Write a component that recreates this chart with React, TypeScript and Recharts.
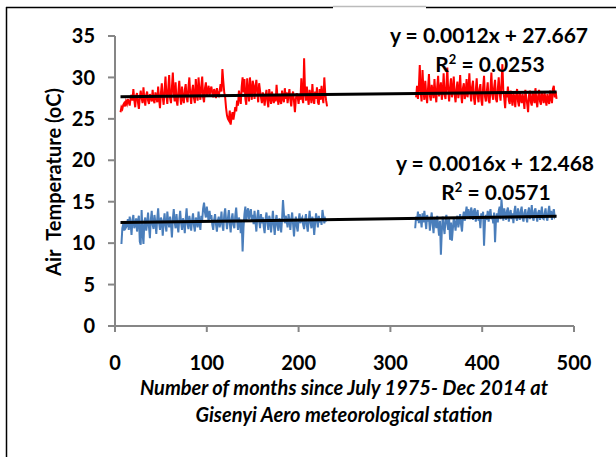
import { LineChart, Line, XAxis, YAxis, ReferenceLine } from "recharts";

// monthly mean max / min air temperature, Gisenyi Aero (months since July 1975)
const redStart1 = 6;
const redPart1 = [
  25.8, 26.4, 26.2, 26.7, 26.9, 26.5, 27.1, 26.8, 27.4, 27.0, 26.6, 27.5, 27.9, 27.2, 28.6, 27.3, 26.4, 27.8, 28.1, 27.0,
  26.2, 27.6, 28.4, 27.5, 26.9, 28.8, 27.4, 26.6, 27.9, 28.3, 27.2, 26.8, 28.0, 27.6, 27.1, 28.5, 27.3, 26.9, 28.2, 27.7,
  27.0, 28.9, 27.4, 26.3, 28.1, 29.3, 27.6, 26.7, 28.4, 30.1, 27.9, 26.8, 28.6, 30.3, 27.5, 26.9, 28.8, 30.6, 28.0, 27.1,
  29.4, 27.3, 26.6, 28.2, 29.6, 27.8, 26.7, 28.9, 27.4, 26.9, 28.5, 29.2, 27.6, 27.0, 28.8, 30.0, 27.9, 26.8, 28.4, 29.1,
  27.5, 26.9, 29.8, 28.1, 27.2, 30.0, 28.4, 27.3, 28.9, 30.1, 27.6, 27.0, 28.7, 29.4, 27.8, 28.3, 29.0, 27.7, 28.5, 28.9,
  28.1, 27.6, 28.6, 28.2, 27.5, 28.7, 28.0, 27.8, 28.4, 29.2, 28.3, 31.0, 29.5, 28.2, 27.6, 26.3, 25.4, 25.0, 24.8, 26.0,
  24.3, 25.2, 25.8, 24.9, 25.6, 26.4, 25.9, 27.2, 26.6, 28.4, 27.5, 26.8, 28.9, 30.0, 28.2, 29.8, 27.4, 26.7, 29.9, 28.3,
  27.1, 30.0, 28.5, 27.3, 29.6, 29.0, 27.4, 28.8, 29.7, 28.1, 27.0, 29.3, 28.4, 27.6, 26.9, 28.2, 27.5, 26.6, 27.8, 28.5,
  27.2, 26.4, 28.6, 27.7, 26.8, 28.3, 27.4, 26.9, 27.9, 27.1, 29.1, 27.6, 26.7, 28.0, 27.3, 26.8, 28.4, 27.5, 27.0, 28.7,
  27.4, 28.2, 26.9, 27.8, 28.6, 27.3, 26.5, 27.9, 28.3, 27.1, 25.8, 27.4, 28.1, 27.6, 26.8, 28.0, 27.3, 29.9, 27.5, 26.9,
  32.3, 28.4, 27.2, 28.9, 27.6, 26.7, 28.5, 27.8, 26.9, 29.2, 27.5, 26.8, 28.3, 27.4, 28.8, 27.0, 26.7, 28.6, 27.3, 29.0,
  27.6, 26.9, 30.0, 28.1, 27.2, 26.5,
];
const redStart2 = 328;
const redPart2 = [
  27.6, 29.0, 27.4, 28.8, 31.5, 28.2, 27.1, 30.9, 28.4, 27.3, 29.6, 28.0, 26.9, 28.7, 30.4, 27.8, 27.2, 29.1, 28.3, 27.5,
  29.8, 28.1, 27.0, 28.9, 30.2, 27.7, 28.5, 29.4, 27.3, 28.2, 30.5, 28.0, 27.4, 29.0, 31.2, 28.3, 27.1, 28.8, 29.9, 27.6,
  28.4, 30.1, 27.9, 27.0, 28.6, 29.5, 27.5, 28.2, 30.3, 28.0, 26.9, 28.7, 29.3, 27.4, 28.1, 29.8, 27.6, 28.5, 30.5, 28.2,
  27.1, 28.9, 29.6, 27.5, 26.7, 28.4, 29.9, 27.8, 27.0, 28.6, 29.2, 27.3, 26.6, 28.8, 30.2, 27.7, 27.1, 28.3, 29.4, 27.2,
  26.9, 28.5, 30.6, 27.9, 27.3, 28.8, 29.7, 27.4, 27.0, 28.6, 30.0, 28.1, 27.2, 29.3, 31.6, 28.4, 27.5, 26.3, 28.2, 27.6,
  28.9, 27.2, 26.8, 28.4, 27.5, 26.6, 28.1, 27.7, 26.4, 27.9, 28.6, 27.1, 26.5, 28.3, 27.4, 26.9, 28.0, 27.3, 26.2, 28.5,
  27.6, 26.8, 25.8, 27.9, 28.4, 27.0, 26.6, 28.2, 27.5, 26.9, 28.7, 27.3, 26.4, 27.8, 28.5, 27.1, 26.7, 28.3, 27.6, 26.9,
  28.1, 27.4, 26.6, 28.0, 27.2, 26.8, 28.4, 27.5, 26.9, 28.6, 29.0, 27.6, 28.3, 27.4,
];
const blueStart1 = 7;
const bluePart1 = [
  9.9, 11.8, 12.3, 11.5, 12.6, 11.9, 12.1, 12.9, 11.6, 13.2, 12.4, 11.0, 12.8, 13.4, 11.8, 12.2, 13.0, 11.4, 12.7, 13.3,
  10.2, 9.8, 14.0, 11.2, 9.9, 12.6, 13.1, 11.5, 12.3, 13.7, 12.0, 10.6, 12.8, 13.9, 12.2, 11.7, 13.4, 12.5, 11.1, 12.9,
  14.2, 12.4, 11.6, 13.1, 12.7, 10.9, 12.5, 13.6, 12.1, 11.4, 13.8, 12.6, 11.9, 13.2, 12.3, 10.7, 12.9, 14.1, 12.5, 11.8,
  13.5, 12.2, 11.3, 12.8, 13.9, 12.4, 11.6, 13.0, 12.6, 11.2, 12.9, 14.2, 12.3, 11.7, 13.3, 12.5, 11.5, 12.8, 13.6, 12.1,
  11.4, 13.1, 12.7, 11.9, 13.8, 12.4, 11.6, 13.3, 12.8, 14.2, 14.9, 13.7, 13.1, 14.4, 13.5, 12.6, 13.9, 12.9, 13.4, 12.2,
  11.6, 12.8, 13.5, 12.3, 11.4, 12.7, 13.2, 11.9, 12.5, 13.8, 12.1, 11.5, 13.4, 14.2, 12.8, 11.7, 13.0, 14.0, 12.4, 11.3,
  12.9, 13.6, 12.2, 11.8, 13.3, 14.3, 12.7, 11.6, 13.1, 12.5, 11.2, 12.8, 9.0, 11.9, 13.5, 14.4, 12.6, 13.8, 14.2, 12.9,
  13.6, 14.1, 12.8, 13.4, 12.3, 13.9, 12.6, 11.4, 13.2, 14.0, 12.7, 11.8, 13.5, 12.4, 13.1, 12.0, 11.2, 12.9, 13.7, 12.5,
  11.6, 13.3, 12.8, 11.3, 12.6, 13.9, 12.2, 11.0, 12.7, 13.4, 12.1, 11.5, 13.0, 12.6, 11.3, 12.9, 15.2, 13.6, 12.4, 13.3,
  12.7, 11.9, 13.5, 12.8, 11.6, 12.9, 13.7, 12.3, 10.8, 12.5, 13.2, 12.0, 11.4, 12.8, 13.6, 12.4, 12.9, 13.1, 12.2, 11.7,
  12.8, 13.5, 12.1, 11.4, 12.7, 13.9, 12.5, 11.8, 13.2, 12.6, 11.0, 12.4, 13.6, 12.8, 11.9, 13.3, 12.5, 13.0, 12.2, 14.0,
  13.2, 12.4, 12.9, 12.6,
];
const blueStart2 = 327;
const bluePart2 = [
  11.8, 13.2, 12.7, 13.8, 12.4, 13.5, 12.9, 11.9, 13.6, 12.5, 13.9, 12.8, 11.7, 13.4, 12.6, 13.1, 11.5, 12.9, 13.7, 12.3,
  11.2, 13.0, 12.6, 11.8, 13.3, 12.1, 10.9, 12.7, 8.6, 11.4, 13.2, 12.0, 11.1, 12.8, 13.4, 12.3, 11.6, 12.9, 10.4, 12.5,
  10.3, 11.7, 13.0, 12.4, 11.5, 12.8, 13.3, 11.9, 12.6, 13.5, 12.2, 11.4, 13.1, 13.8, 12.7, 13.6, 14.4, 13.2, 14.1, 13.5,
  12.9, 14.3, 13.7, 12.8, 13.9, 14.2, 12.6, 13.4, 14.0, 12.7, 13.3, 11.8, 13.6, 12.9, 13.8, 9.7, 12.5, 13.4, 12.8, 13.9,
  12.6, 13.5, 14.1, 12.9, 13.3, 12.4, 13.7, 10.1, 12.8, 13.6, 12.5, 13.9, 14.4, 12.9, 15.3, 13.8, 12.7, 14.2, 13.5, 12.8,
  13.9, 14.3, 12.6, 13.5, 14.0, 12.9, 13.6, 12.4, 13.8, 14.5, 13.1, 12.7, 14.2, 13.4, 12.8, 13.9, 14.4, 13.0, 12.6, 13.7,
  14.1, 13.2, 12.5, 13.8, 14.3, 12.9, 13.4, 14.6, 13.1, 12.7, 13.9, 14.2, 13.3, 12.6, 13.7, 14.0, 12.8, 13.5, 14.4, 13.0,
  12.9, 13.6, 14.2, 13.1, 12.7, 13.8, 14.5, 13.3, 13.9, 12.8, 13.6, 14.1, 13.2, 13.4,
];

// linear trends printed on the chart
const redTrend = { slope: 0.0012, intercept: 27.667, from: 6, to: 481 };
const blueTrend = { slope: 0.0016, intercept: 12.468, from: 6, to: 481 };

const xTicks = [0, 100, 200, 300, 400, 500];
const yTicks = [0, 5, 10, 15, 20, 25, 30, 35];

function valueAt(start: number, values: number[], month: number) {
  const i = month - start;
  return i >= 0 && i < values.length ? values[i] : null;
}

const rows: { month: number; red: number | null; blue: number | null }[] = [];
for (let m = 5; m <= 482; m++) {
  rows.push({
    month: m,
    red: valueAt(redStart1, redPart1, m) ?? valueAt(redStart2, redPart2, m),
    blue: valueAt(blueStart1, bluePart1, m) ?? valueAt(blueStart2, bluePart2, m),
  });
}

function trendSegment(t: typeof redTrend) {
  return [
    { x: t.from, y: t.slope * t.from + t.intercept },
    { x: t.to, y: t.slope * t.to + t.intercept },
  ];
}

const axisColor = "#868686";
const font = "Lato, 'Open Sans', sans-serif";
const tickStyle = { fill: "#000", fontSize: 20, fontWeight: 700, fontFamily: font };

const labelStyle: React.CSSProperties = {
  position: "absolute",
  fontFamily: font,
  fontWeight: 700,
  fontSize: 21,
  color: "#000",
  whiteSpace: "nowrap",
  transform: "translate(-50%, -50%)",
  lineHeight: 1,
};

const supStyle: React.CSSProperties = { fontSize: 13, verticalAlign: "8px", lineHeight: 0 };

export default function App() {
  return (
    <div
      style={{
        position: "absolute",
        left: 0,
        top: 0,
        width: 616,
        height: 457,
        background: "#fff",
        overflow: "hidden",
      }}
    >
      <svg width={616} height={457} style={{ position: "absolute", left: 0, top: 0 }}>
        <line x1={6} y1={7.5} x2={333} y2={7.5} stroke="#000" strokeWidth={1.5} />
        <line x1={333} y1={6.5} x2={426} y2={6.5} stroke="#bbb" strokeWidth={1.5} />
        <line x1={426} y1={7.5} x2={616} y2={7.5} stroke="#000" strokeWidth={1.5} />
        <line x1={6.5} y1={7} x2={6.5} y2={457} stroke="#000" strokeWidth={1.5} />
      </svg>
      <div style={{ position: "absolute", left: 0, top: 0 }}>
        <LineChart width={616} height={457} data={rows} margin={{ top: 36, right: 42, bottom: 101, left: 55 }}>
          <XAxis
            type="number"
            dataKey="month"
            domain={[0, 500]}
            ticks={xTicks}
            interval={0}
            height={30}
            tickSize={6}
            tickMargin={24}
            tick={tickStyle}
            stroke={axisColor}
            strokeWidth={2}
          />
          <YAxis
            type="number"
            domain={[0, 35]}
            ticks={yTicks}
            interval={0}
            width={60}
            tickSize={7}
            tickMargin={13}
            tick={tickStyle}
            stroke={axisColor}
            strokeWidth={2}
          />
          <Line
            type="linear"
            dataKey="red"
            stroke="#ff0000"
            strokeWidth={2}
            dot={false}
            activeDot={false}
            isAnimationActive={false}
          />
          <Line
            type="linear"
            dataKey="blue"
            stroke="#4a7ebb"
            strokeWidth={2}
            dot={false}
            activeDot={false}
            isAnimationActive={false}
          />
          <ReferenceLine segment={trendSegment(redTrend)} stroke="#000" strokeWidth={3} />
          <ReferenceLine segment={trendSegment(blueTrend)} stroke="#000" strokeWidth={3} />
        </LineChart>
      </div>
      <div style={{ ...labelStyle, left: 489, top: 34 }}>y = 0.0012x + 27.667</div>
      <div style={{ ...labelStyle, left: 490, top: 63 }}>
        R<sup style={supStyle}>2</sup> = 0.0253
      </div>
      <div style={{ ...labelStyle, left: 495, top: 162 }}>y = 0.0016x + 12.468</div>
      <div style={{ ...labelStyle, left: 496, top: 191 }}>
        R<sup style={supStyle}>2</sup> = 0.0571
      </div>
      <div
        style={{
          ...labelStyle,
          left: 53,
          top: 182,
          fontSize: 20,
          transform: "translate(-50%, -50%) rotate(-90deg)",
          whiteSpace: "pre",
        }}
      >
        {"Air  Temperature (oC)"}
      </div>
      <div style={{ ...labelStyle, left: 344, top: 387, fontStyle: "italic", fontSize: 20 }}>
        Number of months since July 1975- Dec 2014 at
      </div>
      <div style={{ ...labelStyle, left: 344, top: 414, fontStyle: "italic", fontSize: 20 }}>
        Gisenyi Aero meteorological station
      </div>
    </div>
  );
}
